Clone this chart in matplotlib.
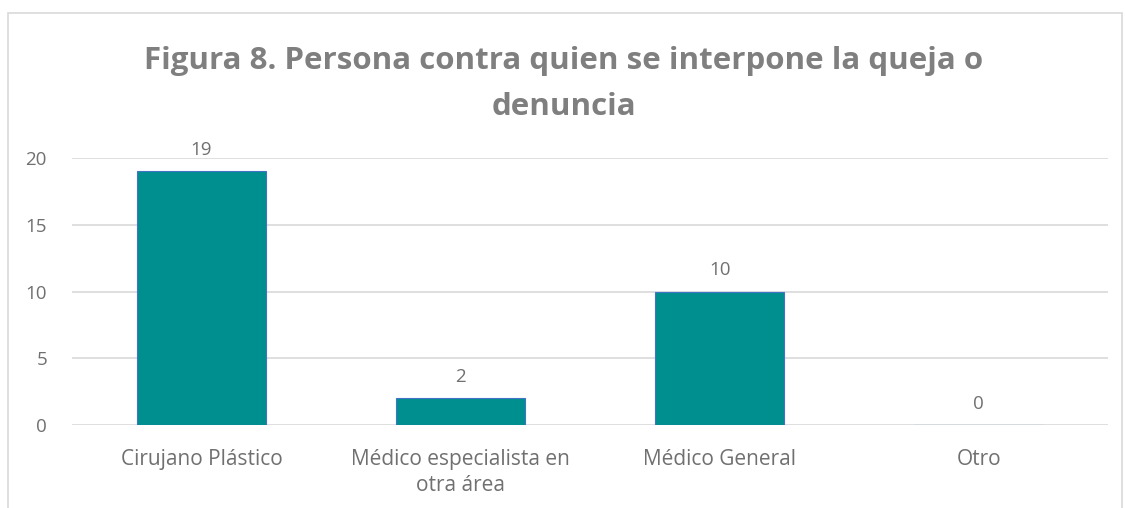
import matplotlib.pyplot as plt
from matplotlib.patches import Rectangle

categorias = ['Cirujano Plástico', 'Médico especialista en\notra área',
              'Médico General', 'Otro']
valores = [19, 2, 10, 0]
titulo = 'Figura 8. Persona contra quien se interpone la queja o\ndenuncia'

gris = '#707070'
plt.rcParams['font.family'] = ['Open Sans', 'DejaVu Sans']

fig = plt.figure(figsize=(11.25, 5.08), dpi=100)
ax = fig.add_axes([0.064, 0.163, 0.921, 0.526])

# marco del grafico
fig.patches.append(Rectangle((8 / 1125, -0.1), 1114 / 1125, 1.1 - 13 / 508,
                             transform=fig.transFigure, fill=False,
                             edgecolor='#d9d9d9', linewidth=1.2))

x = range(len(categorias))
barras = ax.bar(x, valores, 0.5, color='#008f8f', edgecolor='#4472c4',
                linewidth=0.8, zorder=3)
ax.bar_label(barras, padding=9, color=gris, fontsize=13.5)

ax.set_xlim(-0.5, len(categorias) - 0.5)
ax.set_ylim(0, 20)
ax.set_yticks([0, 5, 10, 15, 20])
ax.set_xticks(list(x))
ax.set_xticklabels(categorias, linespacing=1.35)
ax.tick_params(axis='both', length=0, colors=gris)
ax.tick_params(axis='y', pad=18, labelsize=13.5)
ax.tick_params(axis='x', pad=17, labelsize=15)
ax.grid(axis='y', color='#d9d9d9', linewidth=1.2, zorder=0)
for s in ax.spines.values():
    s.set_visible(False)

fig.text(0.501, 1 - 115 / 508, titulo, ha='center', va='baseline',
         fontsize=22.5, fontweight='bold', color='#7f7f7f', linespacing=1.7)

fig.savefig('out.png', dpi=100, facecolor='white')
